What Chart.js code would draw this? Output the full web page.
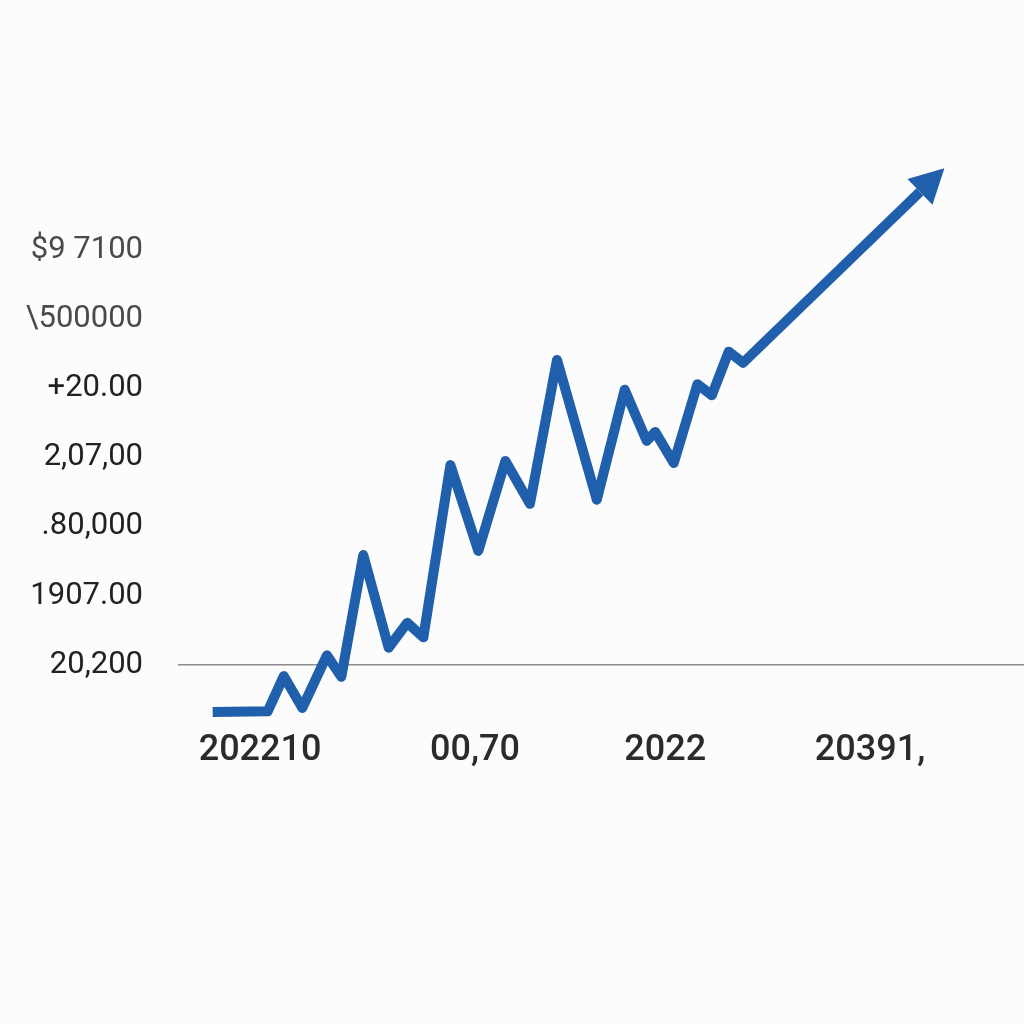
<!DOCTYPE html>
<html>
<head>
<meta charset="utf-8">
<script src="https://cdn.jsdelivr.net/npm/chart.js@4/dist/chart.umd.min.js"></script>
<style>
  html, body { margin: 0; padding: 0; background: #fcfcfc; }
  #wrap { width: 1024px; height: 1024px; }
</style>
</head>
<body>
<div id="wrap"><canvas id="growthChart" width="1024" height="1024"></canvas></div>
<script>
// data (x: 0..100 along the axis, y: in tick steps above the base line)
var xVals = [4.1, 10.6, 12.5, 14.7, 17.6, 19.3, 21.9, 24.9, 27.1, 29.0, 32.2, 35.5, 38.7, 41.6,
             44.8, 49.5, 52.8, 55.4, 56.4, 58.6, 61.4, 63.1, 65.1, 66.8, 87.7];
var yVals = [-0.68, -0.67, -0.16, -0.62, 0.14, -0.17, 1.59, 0.25, 0.61, 0.40, 2.89, 1.65, 2.95, 2.33,
             4.41, 2.39, 3.98, 3.24, 3.37, 2.92, 4.06, 3.90, 4.53, 4.37, 6.84];

var xTickPos = [9.7, 35.1, 57.6, 81.8];
var xLabels = ['202210', '00,70', '2022', '20391,'];

var yTickPos = [0, 1, 2, 3, 4, 5, 6];
var yLabels = ['20,200', '1907.00', '.80,000', '2,07,00', '+20.00', '\\500000', '$9 7100'];

var lineColor = '#1f5fab';

var points = [];
for (let i = 0; i < xVals.length; i++) {
  points.push({ x: xVals[i], y: yVals[i] });
}

// arrow head on the last point of the line
var arrowHead = {
  id: 'arrowHead',
  afterDatasetsDraw(chart) {
    let meta = chart.getDatasetMeta(0);
    let n = meta.data.length;
    let a = meta.data[n - 2], b = meta.data[n - 1];
    let dx = b.x - a.x, dy = b.y - a.y;
    let len = Math.sqrt(dx * dx + dy * dy);
    let ux = dx / len, uy = dy / len;
    let headLen = 34, half = 18;
    let ctx = chart.ctx;
    ctx.save();
    ctx.fillStyle = lineColor;
    ctx.beginPath();
    ctx.moveTo(b.x + ux * headLen, b.y + uy * headLen);
    ctx.lineTo(b.x - uy * half, b.y + ux * half);
    ctx.lineTo(b.x + uy * half, b.y - ux * half);
    ctx.closePath();
    ctx.fill();
    ctx.restore();
  }
};

var ctx = document.getElementById('growthChart').getContext('2d');
var chart = new Chart(ctx, {
  type: 'line',
  data: {
    datasets: [{
      data: points,
      borderColor: lineColor,
      borderWidth: 10,
      borderJoinStyle: 'round',
      borderCapStyle: 'butt',
      pointRadius: 0,
      tension: 0,
      fill: false,
      clip: false
    }]
  },
  options: {
    responsive: false,
    animation: false,
    layout: { padding: { top: 100, left: 0, right: 0, bottom: 0 } },
    plugins: {
      legend: { display: false },
      tooltip: { enabled: false }
    },
    scales: {
      x: {
        type: 'linear',
        min: 0,
        max: 100,
        border: { display: false },
        grid: { display: false, drawTicks: false },
        afterBuildTicks: function(scale) {
          scale.ticks = xTickPos.map(v => ({ value: v }));
        },
        afterFit: function(scale) {
          scale.height = 299;
        },
        ticks: {
          padding: 4,
          maxRotation: 0,
          autoSkip: false,
          color: '#2b2b2b',
          font: { family: 'Roboto', size: 36, weight: '500' },
          callback: function(value, index) { return xLabels[index]; }
        }
      },
      y: {
        type: 'linear',
        min: -0.867,
        max: 8.168,
        border: { display: false },
        grid: {
          drawTicks: false,
          lineWidth: 1.5,
          color: function(c) { return c.tick && c.tick.value === 0 ? '#8c8c8c' : 'rgba(0,0,0,0)'; }
        },
        afterBuildTicks: function(scale) {
          scale.ticks = yTickPos.map(v => ({ value: v }));
        },
        afterFit: function(scale) {
          scale.width = 178;
        },
        ticks: {
          padding: 35,
          autoSkip: false,
          color: function(c) { return c.index >= 5 ? '#4a4a4a' : '#222222'; },
          font: { family: 'Roboto', size: 31 },
          callback: function(value, index) { return yLabels[index]; }
        }
      }
    }
  },
  plugins: [arrowHead]
});
</script>
</body>
</html>
